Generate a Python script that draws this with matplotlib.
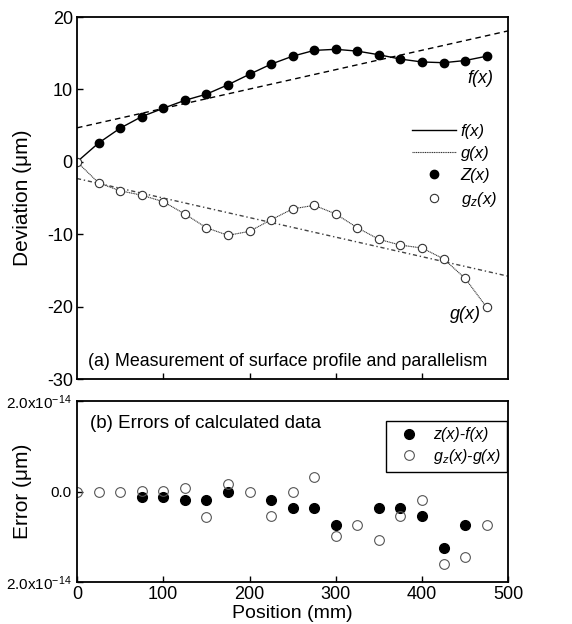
import numpy as np
import matplotlib
matplotlib.use('Agg')
import matplotlib.pyplot as plt

plt.rcParams['font.family'] = ['Liberation Sans', 'DejaVu Sans']
plt.rcParams['mathtext.fontset'] = 'custom'
plt.rcParams['mathtext.rm'] = 'Liberation Sans'
plt.rcParams['mathtext.it'] = 'Liberation Sans:italic'
plt.rcParams['axes.unicode_minus'] = False

# 位置 (mm)
pos = [0, 25, 50, 75, 100, 125, 150, 175, 200, 225, 250, 275, 300, 325,
       350, 375, 400, 425, 450, 475]
# 测量数据 Z(x), g_z(x)
z_vals = [0, 2.6, 4.65, 6.25, 7.4, 8.5, 9.35, 10.65, 12.1, 13.5, 14.6, 15.4,
          15.55, 15.3, 14.8, 14.2, 13.8, 13.7, 14.0, 14.6]
gz_vals = [0, -2.9, -4.0, -4.6, -5.5, -7.2, -9.1, -10.15, -9.6, -8.0, -6.5,
           -6.0, -7.2, -9.1, -10.7, -11.5, -11.9, -13.4, -16.1, -20.1]
# 拟合直线端点
fit_x = [0, 500]
fit_f = [4.7, 18.1]
fit_g = [-2.3, -15.8]

# 误差数据 (b)
err_z_pos = [75, 100, 125, 150, 175, 225, 250, 275, 300, 350, 375, 400, 425, 450]
err_z = [-0.11, -0.13, -0.19, -0.19, -0.01, -0.19, -0.37, -0.37, -0.73,
         -0.37, -0.36, -0.55, -1.25, -0.73]
err_g_pos = pos
err_g = [0, -0.01, 0, 0.02, 0.02, 0.07, -0.56, 0.17, 0, -0.53, 0.0, 0.33,
         -0.99, -0.73, -1.07, -0.53, -0.18, -1.61, -1.44, -0.73]

fig = plt.figure(figsize=(5.72, 6.24), dpi=100)
ax1 = fig.add_axes([0.1346, 0.3926, 0.754, 0.580])
ax2 = fig.add_axes([0.1346, 0.0673, 0.754, 0.290])

# (a)
ax1.plot(fit_x, fit_f, color='black', lw=1.0, ls=(0, (4, 3)))
ax1.plot(fit_x, fit_g, color='#444444', lw=1.0, ls=(0, (3, 2, 1, 2)))
ax1.plot(pos, z_vals, color='black', lw=1.0, label='f(x)')
ax1.plot(pos, gz_vals, color='#333333', lw=0.8, ls=(0, (1, 0.6)), label='g(x)')
ax1.plot(pos[1:], z_vals[1:], 'o', color='black', ms=6, ls='none', label='Z(x)')
ax1.plot(pos, gz_vals, 'o', mfc='white', mec='#333333', mew=0.8, ms=6,
         ls='none', label='g$_z$(x)')
ax1.set_xlim(0, 500)
ax1.set_ylim(-30, 20)
ax1.set_yticks([-30, -20, -10, 0, 10, 20])
ax1.set_xticks([100, 200, 300, 400])
ax1.set_xticklabels([])
ax1.set_ylabel('Deviation (μm)', fontsize=15)
ax1.yaxis.set_label_coords(-0.104, 0.5)
ax1.text(468, 11.5, 'f(x)', fontsize=13, style='italic', ha='center', va='center')
ax1.text(450, -21.1, 'g(x)', fontsize=13, style='italic', ha='center', va='center')
ax1.text(12.5, -27.6, '(a) Measurement of surface profile and parallelism',
         fontsize=12.9, va='center')
ax1.legend(loc='center right', bbox_to_anchor=(1.0, 0.588), frameon=False,
           prop={'size': 12, 'style': 'italic'}, handlelength=2.6,
           handletextpad=0.3, labelspacing=0.42, borderaxespad=0.3)

# (b)
ax2.plot(err_z_pos, np.array(err_z) * 1e-14, 'o', color='black', ms=7, ls='none',
         label='z(x)-f(x)')
ax2.plot(err_g_pos, np.array(err_g) * 1e-14, 'o', mfc='none', mec='#555555',
         mew=0.8, ms=7, ls='none', label='g$_z$(x)-g(x)')
ax2.set_xlim(0, 500)
ax2.set_ylim(-2e-14, 2e-14)
ax2.set_xticks([0, 100, 200, 300, 400, 500])
ax2.set_yticks([-2e-14, 0, 2e-14])
ax2.set_yticklabels(['2.0x10$^{-14}$', '0.0', '2.0x10$^{-14}$'])
ax2.set_xlabel('Position (mm)', fontsize=14, labelpad=1)
ax2.set_ylabel('Error (μm)', fontsize=15)
ax2.yaxis.set_label_coords(-0.104, 0.5)
ax2.text(15, 1.5e-14, '(b) Errors of calculated data', fontsize=13.5, va='center')
leg = ax2.legend(loc='upper right', bbox_to_anchor=(1.0, 0.9),
                 prop={'size': 11.5, 'style': 'italic'},
                 fancybox=False, edgecolor='black', framealpha=1,
                 handletextpad=0.5, labelspacing=0.3, borderaxespad=0.1,
                 borderpad=0.4)
leg.get_frame().set_linewidth(1.0)

for ax in (ax1, ax2):
    ax.tick_params(direction='in', length=4, width=1.0, labelsize=13, pad=3)
    for s in ax.spines.values():
        s.set_linewidth(1.3)
ax2.tick_params(axis='y', labelsize=11, pad=4)
ax2.tick_params(axis='x', pad=3)

fig.savefig('out.png', dpi=100)
